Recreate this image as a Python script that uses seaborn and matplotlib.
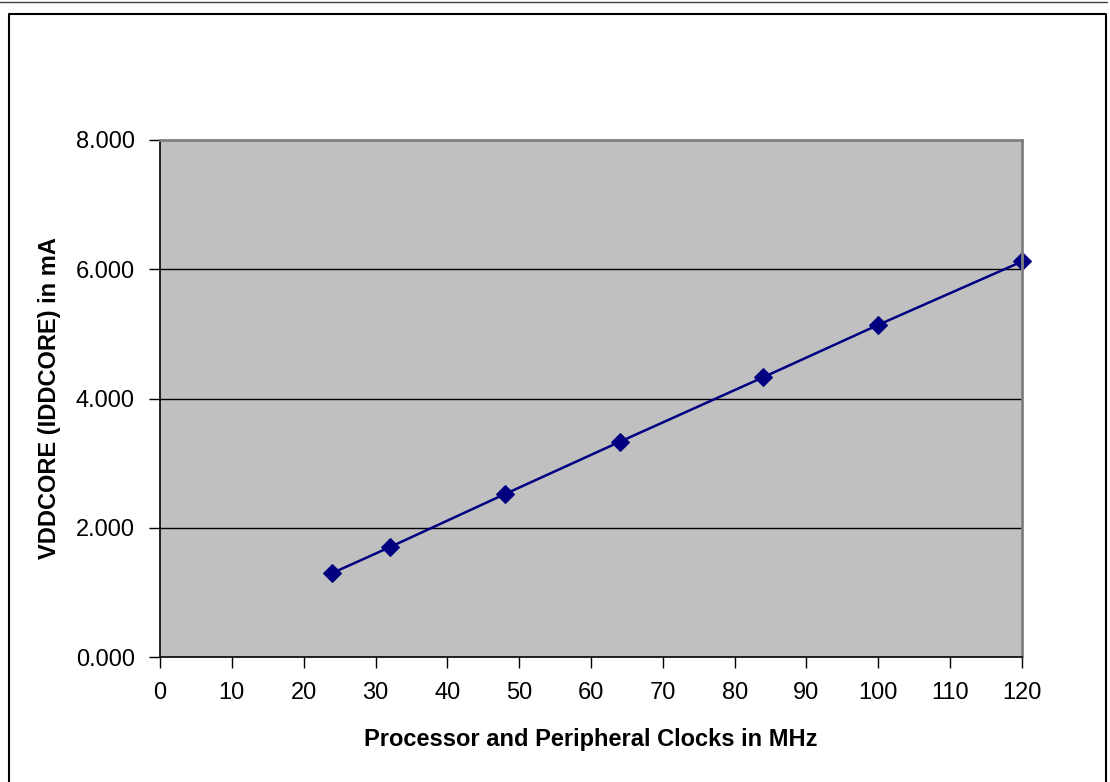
import matplotlib
matplotlib.use("Agg")
import matplotlib.pyplot as plt
import seaborn as sns
import pandas as pd
from matplotlib.lines import Line2D

# clocks in MHz and core current in mA
clocks_mhz = [24, 32, 48, 64, 84, 100, 120]
iddcore_ma = [1.30, 1.70, 2.52, 3.33, 4.33, 5.14, 6.12]

x_ticks = list(range(0, 121, 10))
y_ticks = [0, 2, 4, 6, 8]

sns.set_style("white")
plt.rcParams["font.family"] = ["Liberation Sans", "DejaVu Sans"]
plt.rcParams["text.color"] = "black"
plt.rcParams["axes.labelcolor"] = "black"
plt.rcParams["xtick.color"] = "black"
plt.rcParams["ytick.color"] = "black"

df = pd.DataFrame({"clock": clocks_mhz, "idd": iddcore_ma})

fig = plt.figure(figsize=(11.1, 7.82), dpi=100)
ax = fig.add_axes([160 / 1110, 1 - 657 / 782, 862 / 1110, 517 / 782])
ax.set_facecolor("#C0C0C0")

sns.lineplot(data=df, x="clock", y="idd", ax=ax, color="#000080", linewidth=1.8,
             marker="D", markersize=9, markeredgecolor="#000080", clip_on=False)

ax.set_xlim(0, 120)
ax.set_ylim(0, 8)
ax.set_xticks(x_ticks)
ax.set_yticks(y_ticks)
ax.set_yticklabels([f"{v:.3f}" for v in y_ticks])
ax.tick_params(axis="both", direction="out", length=8, width=1, color="black",
               labelcolor="black", labelsize=17, pad=10)
ax.tick_params(axis="x", bottom=True)
ax.tick_params(axis="y", left=True)

for v in y_ticks[1:-1]:
    ax.axhline(v, color="black", linewidth=1, zorder=1)

for side in ["left", "bottom"]:
    ax.spines[side].set_color("black")
    ax.spines[side].set_linewidth(1.2)
for side in ["top", "right"]:
    ax.spines[side].set_color("#808080")
    ax.spines[side].set_linewidth(2)
    ax.spines[side].set_visible(True)

ax.set_xlabel("Processor and Peripheral Clocks in MHz", fontsize=17,
              fontweight="bold", color="black")
ax.set_ylabel("VDDCORE (IDDCORE) in mA", fontsize=17, fontweight="bold",
              color="black")
# place axis titles where the reference has them
ax.xaxis.set_label_coords(0.5, -(728 - 657) / 517)
ax.yaxis.set_label_coords(-(160 - 61) / 862, 0.5)

# outer chart frame and the top rule
fig.add_artist(Line2D([0, 1107 / 1110], [1 - 2 / 782, 1 - 2 / 782],
                      color="#404040", linewidth=1))
fx = [8.5 / 1110, 8.5 / 1110, 1106 / 1110, 1106 / 1110]
fy = [0, 1 - 14 / 782, 1 - 14 / 782, 0]
fig.add_artist(Line2D(fx, fy, color="black", linewidth=1.5))

fig.savefig("out.png", dpi=100)
